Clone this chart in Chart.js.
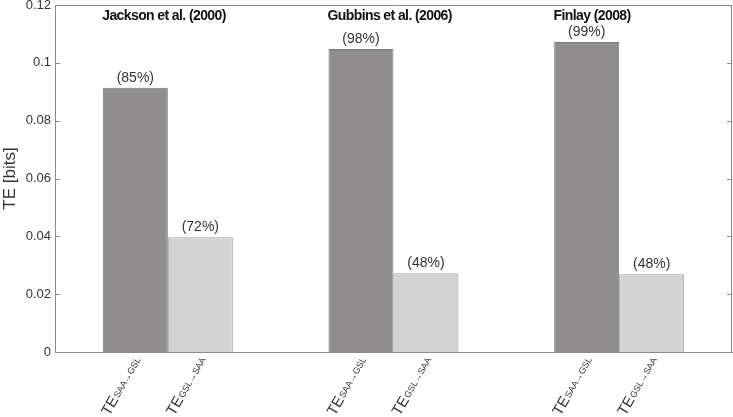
<!DOCTYPE html>
<html>
<head>
<meta charset="utf-8">
<script src="https://cdn.jsdelivr.net/npm/chart.js@4/dist/chart.umd.min.js"></script>
<style>
  html, body { margin: 0; padding: 0; background: #fff; }
  #wrap { width: 733px; height: 417px; }
</style>
</head>
<body>
<div id="wrap"><canvas id="teChart" width="733" height="417"></canvas></div>
<script>
// data
const studies = ['Jackson et al. (2000)', 'Gubbins et al. (2006)', 'Finlay (2008)'];
const teSaaGsl = [0.0914, 0.1048, 0.1072];
const teGslSaa = [0.0397, 0.0272, 0.0269];
const pctSaaGsl = ['(85%)', '(98%)', '(99%)'];
const pctGslSaa = ['(72%)', '(48%)', '(48%)'];
const barSubs = ['SAA\u2192GSL', 'GSL\u2192SAA'];
const yTicks = [0, 0.02, 0.04, 0.06, 0.08, 0.1, 0.12];
// where the study titles sit (category index, value)
const titleX = [-0.017, 0.983, 1.88];
const titleY = 0.1162;

const axisColor = '#8a8a8a';
const textColor = '#333';

const decorations = {
    id: 'decorations',
    afterDatasetsDraw(chart) {
        const ctx = chart.ctx;
        const area = chart.chartArea;
        const x = chart.scales.x;
        const y = chart.scales.y;
        ctx.save();

        // box + inward ticks
        ctx.strokeStyle = axisColor;
        ctx.lineWidth = 1;
        ctx.beginPath();
        ctx.moveTo(area.left, area.top + 0.5);
        ctx.lineTo(area.right - 0.5, area.top + 0.5);
        ctx.lineTo(area.right - 0.5, area.bottom);
        yTicks.forEach(v => {
            if (v === 0) return;
            const py = Math.round(y.getPixelForValue(v)) + 0.5;
            ctx.moveTo(area.left, py);
            ctx.lineTo(area.left + 5, py);
            ctx.moveTo(area.right, py);
            ctx.lineTo(area.right - 5, py);
        });
        ctx.stroke();

        // percentages above bars
        ctx.fillStyle = textColor;
        ctx.font = '14px "Liberation Sans", Arial, sans-serif';
        ctx.textAlign = 'center';
        ctx.textBaseline = 'bottom';
        const pcts = [pctSaaGsl, pctGslSaa];
        chart.data.datasets.forEach((ds, di) => {
            chart.getDatasetMeta(di).data.forEach((bar, i) => {
                ctx.fillText(pcts[di][i], bar.x, bar.y - 3);
            });
        });

        // study titles
        ctx.fillStyle = '#111';
        ctx.font = 'bold 14px "Liberation Sans", Arial, sans-serif';
        ctx.letterSpacing = '-0.6px';
        ctx.textBaseline = 'middle';
        studies.forEach((s, i) => {
            ctx.fillText(s, x.getPixelForValue(titleX[i]), y.getPixelForValue(titleY));
        });
        ctx.letterSpacing = '0px';

        // rotated bar labels TE with subscript
        ctx.fillStyle = textColor;
        const ang = -60 * Math.PI / 180;
        chart.data.datasets.forEach((ds, di) => {
            chart.getDatasetMeta(di).data.forEach(bar => {
                ctx.save();
                ctx.translate(bar.x + 3, area.bottom + 6);
                ctx.rotate(ang);
                ctx.textAlign = 'left';
                ctx.textBaseline = 'alphabetic';
                ctx.font = '15px "Liberation Sans", Arial, sans-serif';
                const wTE = ctx.measureText('TE').width;
                ctx.font = '9px "Liberation Sans", Arial, sans-serif';
                const wSub = ctx.measureText(barSubs[di]).width;
                const x0 = -(wTE + wSub + 1);
                ctx.font = '15px "Liberation Sans", Arial, sans-serif';
                ctx.fillText('TE', x0, 4);
                ctx.font = '9px "Liberation Sans", Arial, sans-serif';
                ctx.fillText(barSubs[di], x0 + wTE + 1, 3);
                ctx.restore();
            });
        });

        ctx.restore();
    }
};

new Chart(document.getElementById('teChart').getContext('2d'), {
    type: 'bar',
    data: {
        labels: studies,
        datasets: [
            {
                data: teSaaGsl,
                backgroundColor: '#8f8d8e',
                borderColor: '#7a7a7a',
                borderWidth: 1,
                borderSkipped: 'bottom',
                categoryPercentage: 0.576,
                barPercentage: 1.0,
            },
            {
                data: teGslSaa,
                backgroundColor: '#d3d3d3',
                borderColor: '#a2a2a2',
                borderWidth: 1,
                borderSkipped: 'bottom',
                categoryPercentage: 0.576,
                barPercentage: 1.0,
            },
        ],
    },
    options: {
        responsive: false,
        animation: false,
        layout: { padding: { top: 5, right: 1, bottom: 65, left: 0 } },
        plugins: {
            legend: { display: false },
            tooltip: { enabled: false },
        },
        scales: {
            x: {
                grid: { display: false },
                border: { display: true, color: axisColor },
                ticks: { display: false },
                afterFit: function (scale) { scale.height = 0; },
            },
            y: {
                min: 0,
                max: 0.12,
                afterBuildTicks: function (scale) {
                    scale.ticks = yTicks.map(v => ({ value: v }));
                },
                afterFit: function (scale) {
                    scale.width = 55;
                    scale.paddingTop = 0;
                    scale.paddingBottom = 0;
                },
                grid: { display: false, drawTicks: false },
                border: { display: true, color: axisColor },
                ticks: {
                    color: textColor,
                    font: { family: '"Liberation Sans", Arial, sans-serif', size: 13 },
                    padding: 4,
                    callback: v => String(+v.toFixed(2)),
                },
                title: {
                    display: true,
                    text: 'TE [bits]',
                    color: textColor,
                    font: { family: '"Liberation Sans", Arial, sans-serif', size: 17 },
                    padding: { top: 0, bottom: 0 },
                },
            },
        },
    },
    plugins: [decorations],
});
</script>
</body>
</html>
